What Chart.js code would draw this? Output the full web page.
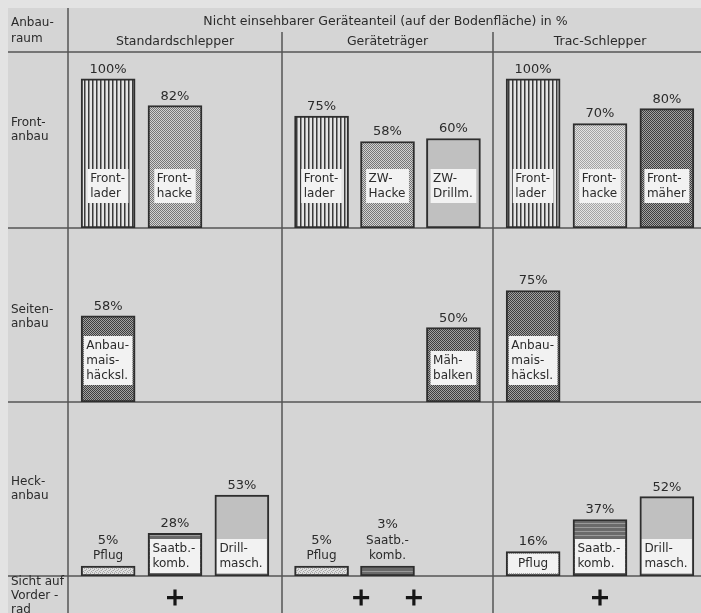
<!DOCTYPE html>
<html>
<head>
<meta charset="utf-8">
<script src="https://cdn.jsdelivr.net/npm/chart.js@4/dist/chart.umd.min.js"></script>
<style>
  html, body { margin: 0; padding: 0; overflow: hidden; background: #e2e2e2; }
  #wrap { width: 701px; height: 613px; overflow: hidden; }
  canvas { display: block; }
</style>
</head>
<body>
<div id="wrap"><canvas id="chart" width="707" height="613"></canvas></div>
<script>
// ---- data ----
const headerTitle = 'Nicht einsehbarer Geräteanteil (auf der Bodenfläche) in %';
const cornerLabel = ['Anbau-', 'raum'];
const groups = ['Standardschlepper', 'Geräteträger', 'Trac-Schlepper'];
const rowLabels = [['Front-', 'anbau'], ['Seiten-', 'anbau'], ['Heck-', 'anbau'], ['Sicht auf', 'Vorder -', 'rad']];

// three implement slots per tractor type, '|' splits the label lines, null = empty slot
const frontImplements = [
  ['Front-|lader', 'Front-|hacke', null],
  ['Front-|lader', 'ZW-|Hacke', 'ZW-|Drillm.'],
  ['Front-|lader', 'Front-|hacke', 'Front-|mäher']
];
const frontValues = [[100, 82, null], [75, 58, 60], [100, 70, 80]];

const sideImplements = [
  ['Anbau-|mais-|häcksl.', null, null],
  [null, null, 'Mäh-|balken'],
  ['Anbau-|mais-|häcksl.', null, null]
];
const sideValues = [[58, null, null], [null, null, 50], [75, null, null]];

const rearImplements = [
  ['Pflug', 'Saatb.-|komb.', 'Drill-|masch.'],
  ['Pflug', 'Saatb.-|komb.', null],
  ['Pflug', 'Saatb.-|komb.', 'Drill-|masch.']
];
const rearValues = [[5, 28, 53], [5, 3, null], [16, 37, 52]];

// slot positions of the "+" marks: front wheel visible from the seat
const wheelView = [[1], [0.6, 1.4], [1]];

// ---- styling ----
const FONT = '"DejaVu Sans", "Liberation Sans", sans-serif';
const TEXT = '#2b2b2b';
const LINE = '#555555';
const xIds = ['xStd', 'xGer', 'xTrac'];
const yIds = ['yFront', 'ySide', 'yRear'];
const groupWidths = [214, 211, 214];
const rowImplements = [frontImplements, sideImplements, rearImplements];
const rowValues = [frontValues, sideValues, rearValues];
const rowStyle = [
  { height: 176, max: 118, lift: 25, fullBox: false, labelShift: -10 },
  { height: 174, max: 117, lift: 17, fullBox: false, labelShift: 2 },
  { height: 174, max: 114, lift: 3, fullBox: true, labelShift: 0 }
];
const viewRowStyle = { height: 37, labelShift: 1.5 };
const rowFills = [
  [['vlines', 'dotsMid', null], ['vlines', 'dotsMid', 'flat'], ['vlines', 'dotsLight', 'dotsDark']],
  [['dotsDark', null, null], [null, null, 'dotsDark'], ['dotsDark', null, null]],
  [['stipple', 'hlines', 'flat'], ['stipple', 'hlines', null], ['dotsLight', 'hlines', 'flat']]
];

function makePattern(w, h, paint) {
  const c = document.createElement('canvas');
  c.width = w; c.height = h;
  const g = c.getContext('2d');
  paint(g);
  return g.createPattern(c, 'repeat');
}
function checker(a, b) {
  return makePattern(2, 2, g => {
    g.fillStyle = b; g.fillRect(0, 0, 2, 2);
    g.fillStyle = a; g.fillRect(0, 0, 1, 1); g.fillRect(1, 1, 1, 1);
  });
}
const patterns = {
  vlines: makePattern(4, 4, g => {
    g.fillStyle = '#e4e4e4'; g.fillRect(0, 0, 4, 4);
    g.fillStyle = '#3a3a3a'; g.fillRect(0, 0, 1, 4);
    g.fillStyle = '#8e8e8e'; g.fillRect(1, 0, 1, 4);
  }),
  dotsMid: checker('#767676', '#d2d2d2'),
  dotsLight: checker('#a4a4a4', '#e4e4e4'),
  dotsDark: checker('#3e3e3e', '#a2a2a2'),
  flat: '#c0c0c0',
  hlines: makePattern(4, 4, g => {
    g.fillStyle = '#6a6a6a'; g.fillRect(0, 0, 4, 4);
    g.fillStyle = '#9a9a9a'; g.fillRect(0, 3, 4, 1);
  }),
  stipple: makePattern(4, 4, g => {
    g.fillStyle = '#e0e0e0'; g.fillRect(0, 0, 4, 4);
    g.fillStyle = '#a8a8a8';
    g.fillRect(0, 0, 1, 1); g.fillRect(2, 1, 1, 1); g.fillRect(1, 2, 1, 1); g.fillRect(3, 3, 1, 1);
    g.fillStyle = '#c4c4c4';
    g.fillRect(2, 0, 1, 1); g.fillRect(0, 2, 1, 1);
  })
};

// ---- datasets ----
const datasets = [];
rowValues.forEach((vals, r) => {
  vals.forEach((slotVals, g) => {
    const pts = [];
    const fills = [];
    slotVals.forEach((v, i) => {
      if (v === null) return;
      pts.push({ x: i, y: v, name: rowImplements[r][g][i] });
      fills.push(patterns[rowFills[r][g][i]]);
    });
    if (!pts.length) return;
    datasets.push({
      type: 'bar',
      xAxisID: xIds[g],
      yAxisID: yIds[r],
      data: pts,
      backgroundColor: fills,
      borderColor: '#2e2e2e',
      borderWidth: 2,
      borderSkipped: false,
      barThickness: 54,
      grouped: false,
      minBarLength: r === 2 ? 10 : 0
    });
  });
});
wheelView.forEach((slots, g) => {
  datasets.push({
    type: 'scatter',
    xAxisID: xIds[g],
    yAxisID: 'yView',
    data: slots.map(x => ({ x, y: 0.5 })),
    pointStyle: 'cross',
    pointRadius: 8,
    borderWidth: 3.2,
    borderColor: '#161616',
    backgroundColor: '#161616'
  });
});

// ---- scales: three column groups side by side, four table rows stacked ----
const hidden = { grid: { display: false }, border: { display: false }, ticks: { display: false } };
const scales = {};
xIds.forEach((id, g) => {
  scales[id] = Object.assign({
    type: 'linear', position: 'bottom', stack: 'groups', stackWeight: groupWidths[g],
    min: -0.6, max: 2.6, offset: false,
    afterFit: s => { s.height = 0; }
  }, hidden);
});
yIds.forEach((id, r) => {
  scales[id] = Object.assign({
    type: 'linear', position: 'left', stack: 'rows', stackWeight: rowStyle[r].height,
    weight: 4 - r, min: 0, max: rowStyle[r].max,
    afterFit: s => { s.width = 68; }
  }, hidden);
});
scales.yView = Object.assign({
  type: 'linear', position: 'left', stack: 'rows', stackWeight: viewRowStyle.height,
  weight: 1, min: 0, max: 1.2,
  afterFit: s => { s.width = 68; }
}, hidden);

// ---- table frame, headers and row titles ----
function strokeLine(ctx, x1, y1, x2, y2) {
  ctx.beginPath(); ctx.moveTo(x1, y1); ctx.lineTo(x2, y2); ctx.stroke();
}
function textLines(ctx, lines, x, yCenter, lh) {
  const y0 = yCenter - (lines.length - 1) * lh / 2;
  lines.forEach((t, k) => ctx.fillText(t, x, y0 + k * lh));
}
const tablePlugin = {
  id: 'tableFrame',
  beforeDraw(chart) {
    const { ctx, width, height, chartArea: area, scales: s } = chart;
    ctx.save();
    ctx.fillStyle = '#e3e3e3';
    ctx.fillRect(0, 0, width, height);
    ctx.fillStyle = '#d5d5d5';
    ctx.fillRect(8, 8, width - 8, height - 8);

    ctx.strokeStyle = LINE;
    ctx.lineWidth = 1.5;
    strokeLine(ctx, s.xStd.left, 8, s.xStd.left, height);
    strokeLine(ctx, s.xGer.left, 32, s.xGer.left, height);
    strokeLine(ctx, s.xTrac.left, 32, s.xTrac.left, height);
    strokeLine(ctx, 8, area.top, width, area.top);
    yIds.forEach(id => strokeLine(ctx, 8, s[id].bottom, width, s[id].bottom));

    ctx.fillStyle = TEXT;
    ctx.textBaseline = 'middle';
    ctx.font = '12.5px ' + FONT;
    ctx.textAlign = 'center';
    ctx.fillText(headerTitle, (area.left + area.right) / 2 - 2, 22);
    xIds.forEach((id, g) => ctx.fillText(groups[g], (s[id].left + s[id].right) / 2, 42));

    ctx.font = '12px ' + FONT;
    ctx.textAlign = 'left';
    textLines(ctx, cornerLabel, 11, 31, 16);
    yIds.forEach((id, r) => {
      textLines(ctx, rowLabels[r], 11, (s[id].top + s[id].bottom) / 2 + rowStyle[r].labelShift, 14.5);
    });
    textLines(ctx, rowLabels[3], 11, (s.yView.top + s.yView.bottom) / 2 + viewRowStyle.labelShift, 14);
    ctx.restore();
  }
};

// ---- value and implement labels on the bars ----
const barLabelPlugin = {
  id: 'barLabels',
  afterDatasetsDraw(chart) {
    const ctx = chart.ctx;
    ctx.save();
    chart.data.datasets.forEach((ds, di) => {
      if (ds.type !== 'bar') return;
      const st = rowStyle[yIds.indexOf(ds.yAxisID)];
      chart.getDatasetMeta(di).data.forEach((bar, i) => {
        const pt = ds.data[i];
        const lines = pt.name.split('|');
        const p = bar.getProps(['x', 'y', 'base', 'width'], true);
        const top = Math.min(p.y, p.base);
        ctx.textBaseline = 'middle';
        if (pt.y < 10) {
          // short bars: the implement name sits above the bar, under its value
          ctx.fillStyle = TEXT;
          ctx.textAlign = 'center';
          ctx.font = '12px ' + FONT;
          let yc = top - 10;
          for (let k = lines.length - 1; k >= 0; k--) {
            ctx.fillText(lines[k], p.x, yc);
            yc -= 15.5;
          }
          ctx.font = '13px ' + FONT;
          ctx.fillText(pt.y + '%', p.x, yc);
          return;
        }
        ctx.font = '13px ' + FONT;
        ctx.fillStyle = TEXT;
        ctx.textAlign = 'center';
        ctx.fillText(pt.y + '%', p.x, top - 9.5);

        ctx.font = '12px ' + FONT;
        const tw = Math.max(...lines.map(l => ctx.measureText(l).width));
        const inner = p.width - 4;
        const bw = st.fullBox ? inner : Math.min(inner, tw + 6);
        const bh = lines.length * 15 + 4;
        const bx = p.x - bw / 2;
        const by = p.base - st.lift - bh;
        ctx.fillStyle = '#f2f2f2';
        ctx.fillRect(bx, by, bw, bh);
        ctx.fillStyle = TEXT;
        if (lines.length === 1) {
          ctx.textAlign = 'center';
          ctx.fillText(lines[0], p.x, by + 2 + 7.5);
        } else {
          ctx.textAlign = 'left';
          lines.forEach((l, k) => ctx.fillText(l, bx + 2.5, by + 2 + 7.5 + k * 15));
        }
      });
    });
    ctx.restore();
  }
};

new Chart(document.getElementById('chart'), {
  type: 'bar',
  data: { datasets },
  options: {
    responsive: false,
    animation: false,
    events: [],
    layout: { autoPadding: false, padding: { top: 52, left: 0, right: 0, bottom: 0 } },
    plugins: { legend: { display: false }, tooltip: { enabled: false } },
    scales
  },
  plugins: [tablePlugin, barLabelPlugin]
});
</script>
</body>
</html>
